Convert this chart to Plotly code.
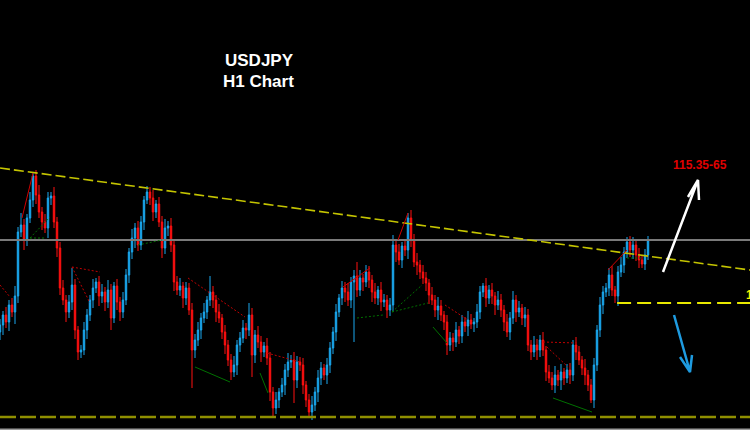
import plotly.graph_objects as go

# ---------------- data (USDJPY H1, prices) ----------------
first_open = 112.68
closes = [
    112.75, 112.85, 112.78, 112.95, 112.88, 113.04, 113.68, 113.75, 113.60, 113.82,
    114.00, 114.24, 114.05, 113.88, 113.78, 113.72, 114.02, 114.04, 113.78, 113.52,
    113.12, 113.00, 112.88, 112.98, 113.15, 112.70, 112.48, 112.50, 112.70, 112.85,
    113.00, 113.12, 113.18, 113.04, 113.08, 112.98, 113.10, 112.82, 113.14, 112.98,
    112.88, 113.00, 113.25, 113.48, 113.62, 113.72, 113.55, 113.78, 114.00, 114.08,
    114.02, 113.88, 113.96, 113.78, 113.52, 113.72, 113.74, 113.55, 113.18, 113.10,
    113.14, 113.02, 113.12, 112.90, 112.50, 112.60, 112.70, 112.82, 112.88, 113.00,
    113.08, 113.00, 112.88, 112.82, 112.68, 112.55, 112.40, 112.28, 112.35, 112.55,
    112.62, 112.72, 112.70, 112.85, 112.45, 112.65, 112.58, 112.48, 112.54, 112.42,
    112.08, 111.92, 112.00, 112.08, 112.15, 112.30, 112.38, 112.40, 112.20, 112.38,
    112.35, 112.15, 112.00, 111.88, 111.95, 112.08, 112.22, 112.32, 112.25, 112.35,
    112.52, 112.68, 112.88, 113.02, 113.12, 113.08, 113.00, 113.18, 113.24, 113.10,
    113.22, 113.18, 113.28, 113.20, 113.08, 113.02, 113.10, 112.98, 113.00, 112.90,
    112.95, 113.55, 113.48, 113.40, 113.54, 113.50, 113.82, 113.60, 113.38, 113.35,
    113.28, 113.22, 113.17, 113.05, 113.00, 112.90, 112.94, 112.85, 112.78, 112.55,
    112.62, 112.58, 112.70, 112.64, 112.78, 112.74, 112.80, 112.76, 112.78, 112.88,
    113.08, 113.14, 113.02, 113.10, 113.04, 112.95, 113.00, 112.90, 112.78, 112.68,
    112.82, 113.00, 112.88, 112.92, 112.82, 112.85, 112.55, 112.48, 112.55, 112.50,
    112.60, 112.50, 112.28, 112.22, 112.15, 112.25, 112.20, 112.28, 112.22, 112.30,
    112.25, 112.55, 112.48, 112.40, 112.32, 112.25, 112.15, 112.00, 112.35, 112.70,
    112.95, 113.08, 113.12, 113.25, 113.10, 113.04, 113.28, 113.35, 113.48, 113.58,
    113.50, 113.55, 113.45, 113.40, 113.36, 113.45, 113.60,
]
# upper / lower shadows beyond the body, in hundredths of a yen
wick_up = [
    6, 4, 8, 5, 7, 10, 5, 12, 6, 4,
    8, 4, 6, 10, 5, 8, 6, 4, 9, 5,
    6, 8, 5, 7, 17, 6, 4, 5, 8, 6,
    5, 9, 4, 6, 8, 5, 10, 6, 4, 7,
    5, 8, 6, 4, 9, 5, 7, 6, 4, 6,
    5, 8, 4, 7, 6, 9, 5, 8, 5, 6,
    8, 4, 6, 5, 7, 6, 8, 5, 9, 4,
    16, 6, 5, 8, 4, 7, 5, 6, 9, 5,
    6, 8, 5, 12, 7, 5, 9, 6, 4, 8,
    6, 5, 8, 4, 7, 6, 9, 5, 8, 6,
    5, 7, 4, 6, 9, 5, 8, 6, 4, 7,
    6, 5, 8, 4, 7, 6, 9, 5, 6, 14,
    8, 4, 7, 6, 5, 9, 4, 8, 6, 5,
    7, 10, 5, 8, 4, 6, 5, 8, 6, 9,
    5, 7, 6, 4, 8, 5, 9, 6, 4, 7,
    6, 5, 8, 4, 7, 5, 9, 6, 4, 8,
    6, 3, 8, 5, 7, 4, 9, 6, 5, 8,
    6, 9, 5, 7, 4, 8, 6, 5, 9, 6,
    5, 8, 4, 7, 6, 9, 5, 8, 4, 6,
    7, 5, 8, 6, 4, 9, 5, 6, 7, 5,
    8, 6, 5, 7, 9, 4, 6, 8, 5, 5,
    6, 8, 4, 7, 5, 6, 4,
]
wick_dn = [
    8, 10, 6, 9, 5, 12, 7, 5, 10, 6,
    5, 7, 9, 6, 8, 5, 10, 7, 6, 9,
    7, 5, 10, 6, 8, 9, 8, 6, 5, 9,
    6, 8, 5, 10, 7, 9, 6, 12, 5, 8,
    9, 6, 5, 8, 7, 10, 6, 5, 8, 4,
    7, 9, 6, 5, 10, 6, 8, 7, 9, 5,
    6, 10, 7, 5, 38, 8, 6, 9, 5, 7,
    6, 8, 10, 5, 7, 9, 6, 8, 5, 10,
    7, 5, 9, 6, 22, 8, 6, 10, 5, 7,
    9, 9, 6, 8, 5, 10, 7, 6, 23, 8,
    6, 9, 7, 5, 8, 6, 10, 7, 5, 9,
    8, 6, 9, 5, 7, 10, 6, 8, 60, 7,
    6, 9, 5, 8, 10, 6, 7, 9, 5, 8,
    6, 7, 10, 5, 8, 6, 9, 7, 5, 10,
    7, 6, 8, 9, 5, 7, 10, 6, 8, 10,
    6, 9, 5, 8, 7, 6, 10, 5, 8, 6,
    7, 5, 9, 6, 8, 10, 5, 7, 9, 5,
    8, 6, 10, 5, 7, 9, 6, 8, 5, 10,
    7, 6, 9, 5, 5, 8, 6, 10, 7, 5,
    9, 6, 8, 5, 7, 10, 6, 3, 8, 6,
    7, 9, 5, 8, 6, 7, 10, 5, 8, 6,
    7, 9, 6, 8, 4, 6, 5,
]

# horizontal / trend levels
resistance_trend = [(0, 114.32), (250, 113.30)]
pivot_level = 113.60
bottom_level = 111.83
support_level = 112.97
support_start = 205.7

# pattern (zigzag) segments: (x0, p0, x1, p1)
red_dotted = [
    (0, 113.15, 3.33, 113.03), (24, 113.33, 33.33, 113.28), (24, 113.33, 30, 112.97),
    (62.67, 113.22, 81.67, 112.83), (89, 112.47, 100, 112.38), (148.33, 112.95, 156, 112.80),
    (181, 112.58, 192.33, 112.57), (182.33, 112.53, 189.33, 112.33),
]
red_solid = [
    (7.33, 113.82, 11, 114.27), (114.33, 113.13, 123.33, 113.32),
    (132.67, 113.60, 136, 113.87), (202.67, 113.30, 209, 113.50),
]
green_dotted = [
    (10, 113.62, 16.67, 113.83), (10, 113.62, 15, 113.62), (46, 113.55, 54, 113.60),
    (119, 112.82, 127.67, 112.85), (130.67, 112.88, 140.67, 113.15),
    (130.67, 112.88, 142.67, 112.97), (209, 113.42, 214.33, 113.42),
]
green_solid = [
    (65, 112.33, 76.67, 112.18), (86.67, 112.27, 89.33, 112.07),
    (144.33, 112.73, 149, 112.57), (184.33, 112.02, 197.33, 111.88),
]

# arrows: polyline points (shaft then head barbs)
up_arrow = [(221.0, 113.28), (232.67, 114.20), (229.33, 114.03), (232.67, 114.20), (233.0, 114.00)]
down_arrow = [(224.67, 112.85), (230.0, 112.28), (226.67, 112.43), (230.0, 112.28), (230.67, 112.45)]

target_text = "115.35-65"
target_pos = (233.33, 114.35)
level_label = "112.97"
level_label_pos = (248.0, 113.05)

X_RANGE = [0, 250]
Y_RANGE = [111.70, 116.00]

# ---------------- build ----------------
opens = [first_open] + closes[:-1]
highs = [max(o, c) + u / 100 for o, c, u in zip(opens, closes, wick_up)]
lows = [min(o, c) - d / 100 for o, c, d in zip(opens, closes, wick_dn)]
xs = list(range(len(closes)))

fig = go.Figure()


def seg_trace(segs, color, dash, width=1):
    xx, yy = [], []
    for x0, y0, x1, y1 in segs:
        xx += [x0, x1, None]
        yy += [y0, y1, None]
    return go.Scatter(x=xx, y=yy, mode="lines", hoverinfo="skip", showlegend=False,
                      line=dict(color=color, width=width, dash=dash))


# levels under the candles
fig.add_trace(go.Scatter(x=[X_RANGE[0], X_RANGE[1]], y=[pivot_level, pivot_level], mode="lines",
                         line=dict(color="#7a7a7a", width=2), hoverinfo="skip", showlegend=False))
fig.add_trace(go.Scatter(x=[p[0] for p in resistance_trend], y=[p[1] for p in resistance_trend],
                         mode="lines", line=dict(color="#c4c400", width=1.6, dash="10px,4px"),
                         hoverinfo="skip", showlegend=False))
fig.add_trace(go.Scatter(x=[X_RANGE[0], X_RANGE[1]], y=[bottom_level, bottom_level], mode="lines",
                         line=dict(color="#8f8f00", width=2.5, dash="16px,4px"),
                         hoverinfo="skip", showlegend=False))
fig.add_trace(go.Scatter(x=[support_start, X_RANGE[1]], y=[support_level, support_level], mode="lines",
                         line=dict(color="#e8e800", width=2, dash="14px,6px"),
                         hoverinfo="skip", showlegend=False))

fig.add_trace(go.Candlestick(
    x=xs, open=opens, high=highs, low=lows, close=closes,
    increasing=dict(line=dict(color="#1aa8ef", width=1), fillcolor="#1aa8ef"),
    decreasing=dict(line=dict(color="#ff1010", width=1), fillcolor="#ff1010"),
    whiskerwidth=0, showlegend=False, hoverinfo="skip",
))

fig.add_trace(seg_trace(red_dotted, "#c00000", "2px,2px"))
fig.add_trace(seg_trace(red_solid, "#d00000", "solid"))
fig.add_trace(seg_trace(green_dotted, "#007000", "2px,2px"))
fig.add_trace(seg_trace(green_solid, "#007000", "solid"))

fig.add_trace(go.Scatter(x=[p[0] for p in up_arrow], y=[p[1] for p in up_arrow], mode="lines",
                         line=dict(color="#ffffff", width=2.5), hoverinfo="skip", showlegend=False))
fig.add_trace(go.Scatter(x=[p[0] for p in down_arrow], y=[p[1] for p in down_arrow], mode="lines",
                         line=dict(color="#1e9be0", width=2.5), hoverinfo="skip", showlegend=False))

fig.add_annotation(x=target_pos[0], y=target_pos[1], xref="x", yref="y", text="<b>%s</b>" % target_text,
                   showarrow=False, font=dict(family="Liberation Sans, Arial", size=12, color="#e00000"))
fig.add_annotation(x=level_label_pos[0], y=level_label_pos[1], xref="x", yref="y",
                   text="<b>%s</b>" % level_label, showarrow=False, xanchor="left",
                   font=dict(family="Liberation Sans, Arial", size=12, color="#f0f000"))

fig.add_annotation(x=259 / 750, y=1 - 49 / 430, xref="paper", yref="paper", text="<b>USDJPY</b>",
                   showarrow=False, font=dict(family="Liberation Sans, Arial", size=17, color="#ffffff"))
fig.add_annotation(x=258 / 750, y=1 - 70.5 / 430, xref="paper", yref="paper", text="<b>H1 Chart</b>",
                   showarrow=False, font=dict(family="Liberation Sans, Arial", size=17, color="#ffffff"))

fig.add_shape(type="line", xref="paper", yref="paper", x0=0, x1=1, y0=0.001, y1=0.001,
              line=dict(color="#9a9a9a", width=2))

fig.update_layout(
    width=750, height=430, margin=dict(l=0, r=0, t=0, b=0),
    paper_bgcolor="#000000", plot_bgcolor="#000000", showlegend=False,
    xaxis=dict(range=X_RANGE, visible=False, rangeslider=dict(visible=False), fixedrange=True),
    yaxis=dict(range=Y_RANGE, visible=False, fixedrange=True),
)

fig.write_html("out.html", config={"displayModeBar": False},
               post_script="document.body.style.margin='0';document.body.style.background='#000';")
